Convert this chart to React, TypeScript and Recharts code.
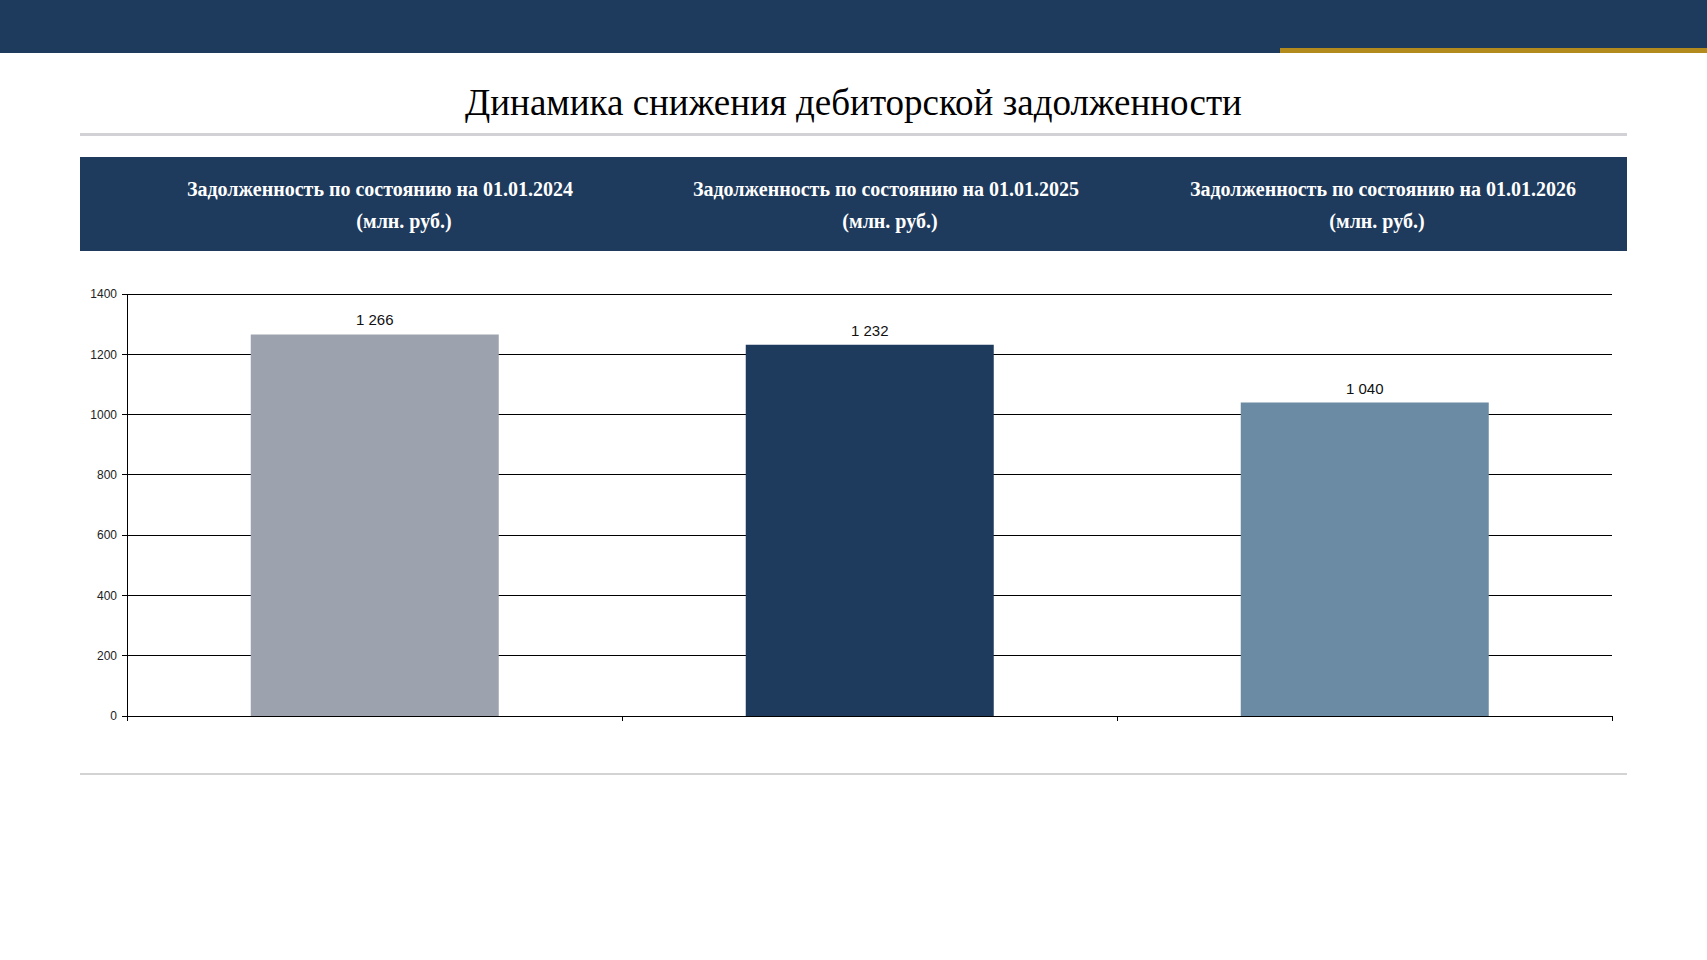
import React from 'react';
import { BarChart, Bar, XAxis, YAxis, CartesianGrid, Cell, LabelList } from 'recharts';

// chart data
const categories = ['01.01.2024', '01.01.2025', '01.01.2026'];
const debtValues = [1266, 1232, 1040];
const barColors = ['#9da3ae', '#1e3a5c', '#6b8ba5'];
const yTicks = [0, 200, 400, 600, 800, 1000, 1200, 1400];

const title = 'Динамика снижения дебиторской задолженности';
const headerPrefix = 'Задолженность по состоянию на';
const headerUnit = '(млн. руб.)';

const NAVY = '#1e3a5c';
const GOLD = '#b38a1e';

// header text centres (px)
const line1X = [380, 886, 1383];
const line2X = [404, 890, 1377];

const CHART_W = 1707;
const MARGIN = { top: 24, right: 95, left: 0, bottom: 0 };
const Y_AXIS_W = 127;

const fmt = (v: any) => String(v).replace(/\B(?=(\d{3})+(?!\d))/g, ' ');

// tick marks sit on category boundaries, not centres
function EdgeTick(props: any) {
  const { x, y, payload, index } = props;
  const fallback = (CHART_W - MARGIN.right - MARGIN.left - Y_AXIS_W) / categories.length / 2;
  const half = payload && payload.offset ? payload.offset : fallback;
  const xl = Math.round(x - half) + 0.5;
  const xr = Math.round(x + half) + 0.5;
  return (
    <g>
      <line x1={xl} x2={xl} y1={y} y2={y + 5} stroke="#000" />
      {index === categories.length - 1 && <line x1={xr} x2={xr} y1={y} y2={y + 5} stroke="#000" />}
    </g>
  );
}

export default function App() {
  const chartData = categories.map((c, i) => ({ category: c, value: debtValues[i] }));

  return (
    <div style={{ position: 'absolute', left: 0, top: 0, width: 1707, height: 960, background: '#fff', overflow: 'hidden' }}>
      {/* top bar */}
      <div style={{ position: 'absolute', left: 0, top: 0, width: 1707, height: 53, background: NAVY }} />
      <div style={{ position: 'absolute', left: 1280, top: 48, width: 427, height: 5, background: GOLD }} />

      {/* title */}
      <div
        style={{
          position: 'absolute', left: 0, top: 79, width: 1707, textAlign: 'center',
          fontFamily: '"Liberation Serif", serif', fontSize: 37, lineHeight: '48px', color: '#000'
        }}
      >
        {title}
      </div>
      <div style={{ position: 'absolute', left: 80, top: 133, width: 1547, height: 3, background: '#d2d2d6' }} />

      {/* header band */}
      <div style={{ position: 'absolute', left: 80, top: 157, width: 1547, height: 94, background: NAVY }} />
      {categories.map((c, i) => (
        <React.Fragment key={c}>
          <div style={{
            position: 'absolute', left: line1X[i] - 300, top: 176, width: 600, textAlign: 'center',
            fontFamily: '"Liberation Serif", serif', fontWeight: 'bold', fontSize: 20, lineHeight: '26px', color: '#fff'
          }}>
            {headerPrefix} {c}
          </div>
          <div style={{
            position: 'absolute', left: line2X[i] - 300, top: 208, width: 600, textAlign: 'center',
            fontFamily: '"Liberation Serif", serif', fontWeight: 'bold', fontSize: 20, lineHeight: '26px', color: '#fff'
          }}>
            {headerUnit}
          </div>
        </React.Fragment>
      ))}

      {/* chart */}
      <div style={{ position: 'absolute', left: 0, top: 270 }}>
        <BarChart
          width={CHART_W}
          height={476}
          data={chartData}
          margin={MARGIN}
          barCategoryGap="25%"
        >
          <CartesianGrid horizontal vertical={false} stroke="#000" strokeWidth={1} shapeRendering="crispEdges" />
          <XAxis
            dataKey="category"
            height={30}
            interval={0}
            axisLine={{ stroke: '#000', shapeRendering: 'crispEdges' }}
            tickLine={false}
            tickSize={0}
            tickMargin={0}
            tick={<EdgeTick />}
          />
          <YAxis
            width={Y_AXIS_W}
            domain={[0, 1400]}
            ticks={yTicks}
            interval={0}
            axisLine={{ stroke: '#000', shapeRendering: 'crispEdges' }}
            tickLine={{ stroke: '#000', shapeRendering: 'crispEdges' }}
            tickSize={5}
            tickMargin={5}
            tick={{ fill: '#222', fontSize: 12, fontFamily: '"Liberation Sans", Arial, sans-serif' }}
          />
          <Bar dataKey="value" isAnimationActive={false}>
            {chartData.map((d, i) => (
              <Cell key={d.category} fill={barColors[i]} />
            ))}
            <LabelList
              dataKey="value"
              position="top"
              offset={9}
              formatter={fmt}
              style={{ fill: '#111', fontSize: 15, fontFamily: '"Liberation Sans", Arial, sans-serif' }}
            />
          </Bar>
        </BarChart>
      </div>

      {/* bottom rule */}
      <div style={{ position: 'absolute', left: 80, top: 773, width: 1547, height: 2, background: '#d3d3d3' }} />
    </div>
  );
}
